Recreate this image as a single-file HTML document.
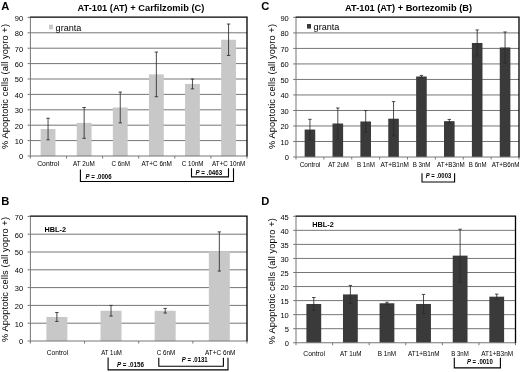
<!DOCTYPE html>
<html><head><meta charset="utf-8"><style>
html,body{margin:0;padding:0;background:#fff;}
svg{display:block;font-family:"Liberation Sans",sans-serif;}
</style></head><body>
<svg width="520" height="372" viewBox="0 0 520 372" style="will-change:transform;opacity:0.999">
<rect width="520" height="372" fill="#fff"/>
<line x1="30.4" y1="140.60" x2="247" y2="140.60" stroke="#767676" stroke-width="1"/>
<line x1="30.4" y1="125.20" x2="247" y2="125.20" stroke="#767676" stroke-width="1"/>
<line x1="30.4" y1="109.80" x2="247" y2="109.80" stroke="#767676" stroke-width="1"/>
<line x1="30.4" y1="94.40" x2="247" y2="94.40" stroke="#767676" stroke-width="1"/>
<line x1="30.4" y1="79.00" x2="247" y2="79.00" stroke="#767676" stroke-width="1"/>
<line x1="30.4" y1="63.60" x2="247" y2="63.60" stroke="#767676" stroke-width="1"/>
<line x1="30.4" y1="48.20" x2="247" y2="48.20" stroke="#767676" stroke-width="1"/>
<line x1="30.4" y1="32.80" x2="247" y2="32.80" stroke="#767676" stroke-width="1"/>
<rect x="40.65" y="129.05" width="14.8" height="26.95" fill="#c8c8c8"/>
<rect x="76.75" y="122.89" width="14.8" height="33.11" fill="#c8c8c8"/>
<rect x="112.85" y="107.49" width="14.8" height="48.51" fill="#c8c8c8"/>
<rect x="148.95" y="74.38" width="14.8" height="81.62" fill="#c8c8c8"/>
<rect x="185.05" y="83.93" width="14.8" height="72.07" fill="#c8c8c8"/>
<rect x="221.15" y="39.73" width="14.8" height="116.27" fill="#c8c8c8"/>
<line x1="30.4" y1="156.00" x2="247" y2="156.00" stroke="#767676" stroke-width="1"/>
<line x1="30.4" y1="17.4" x2="30.4" y2="158.5" stroke="#767676" stroke-width="1"/>
<path d="M29.9 17.2 H247 V156.5" fill="none" stroke="#000" stroke-width="1.3"/>
<line x1="27.599999999999998" y1="156.00" x2="30.4" y2="156.00" stroke="#767676" stroke-width="1"/>
<text x="23.2" y="159.30" font-size="7.5" text-anchor="end" fill="#000">0</text>
<line x1="27.599999999999998" y1="140.60" x2="30.4" y2="140.60" stroke="#767676" stroke-width="1"/>
<text x="23.2" y="143.90" font-size="7.5" text-anchor="end" fill="#000">10</text>
<line x1="27.599999999999998" y1="125.20" x2="30.4" y2="125.20" stroke="#767676" stroke-width="1"/>
<text x="23.2" y="128.50" font-size="7.5" text-anchor="end" fill="#000">20</text>
<line x1="27.599999999999998" y1="109.80" x2="30.4" y2="109.80" stroke="#767676" stroke-width="1"/>
<text x="23.2" y="113.10" font-size="7.5" text-anchor="end" fill="#000">30</text>
<line x1="27.599999999999998" y1="94.40" x2="30.4" y2="94.40" stroke="#767676" stroke-width="1"/>
<text x="23.2" y="97.70" font-size="7.5" text-anchor="end" fill="#000">40</text>
<line x1="27.599999999999998" y1="79.00" x2="30.4" y2="79.00" stroke="#767676" stroke-width="1"/>
<text x="23.2" y="82.30" font-size="7.5" text-anchor="end" fill="#000">50</text>
<line x1="27.599999999999998" y1="63.60" x2="30.4" y2="63.60" stroke="#767676" stroke-width="1"/>
<text x="23.2" y="66.90" font-size="7.5" text-anchor="end" fill="#000">60</text>
<line x1="27.599999999999998" y1="48.20" x2="30.4" y2="48.20" stroke="#767676" stroke-width="1"/>
<text x="23.2" y="51.50" font-size="7.5" text-anchor="end" fill="#000">70</text>
<line x1="27.599999999999998" y1="32.80" x2="30.4" y2="32.80" stroke="#767676" stroke-width="1"/>
<text x="23.2" y="36.10" font-size="7.5" text-anchor="end" fill="#000">80</text>
<line x1="27.599999999999998" y1="17.40" x2="30.4" y2="17.40" stroke="#767676" stroke-width="1"/>
<text x="23.2" y="20.70" font-size="7.5" text-anchor="end" fill="#000">90</text>
<line x1="66.50" y1="156.00" x2="66.50" y2="158.50" stroke="#767676" stroke-width="1"/>
<line x1="102.60" y1="156.00" x2="102.60" y2="158.50" stroke="#767676" stroke-width="1"/>
<line x1="138.70" y1="156.00" x2="138.70" y2="158.50" stroke="#767676" stroke-width="1"/>
<line x1="174.80" y1="156.00" x2="174.80" y2="158.50" stroke="#767676" stroke-width="1"/>
<line x1="210.90" y1="156.00" x2="210.90" y2="158.50" stroke="#767676" stroke-width="1"/>
<line x1="247.00" y1="156.00" x2="247.00" y2="158.50" stroke="#767676" stroke-width="1"/>
<path d="M48.05 118.27 V139.83 M46.35 118.27 h3.4 M46.35 139.83 h3.4" stroke="#2a2a2a" stroke-width="0.85" fill="none"/>
<path d="M84.15 107.49 V138.29 M82.45 107.49 h3.4 M82.45 138.29 h3.4" stroke="#2a2a2a" stroke-width="0.85" fill="none"/>
<path d="M120.25 92.09 V122.89 M118.55 92.09 h3.4 M118.55 122.89 h3.4" stroke="#2a2a2a" stroke-width="0.85" fill="none"/>
<path d="M156.35 52.05 V96.71 M154.65 52.05 h3.4 M154.65 96.71 h3.4" stroke="#2a2a2a" stroke-width="0.85" fill="none"/>
<path d="M192.45 79.00 V88.86 M190.75 79.00 h3.4 M190.75 88.86 h3.4" stroke="#2a2a2a" stroke-width="0.85" fill="none"/>
<path d="M228.55 24.02 V55.44 M226.85 24.02 h3.4 M226.85 55.44 h3.4" stroke="#2a2a2a" stroke-width="0.85" fill="none"/>
<text x="37.20" y="166" font-size="6.8" textLength="22" lengthAdjust="spacingAndGlyphs" fill="#000">Control</text>
<text x="73.05" y="166" font-size="6.8" textLength="21.7" lengthAdjust="spacingAndGlyphs" fill="#000">AT 2uM</text>
<text x="111.55" y="166" font-size="6.8" textLength="18.5" lengthAdjust="spacingAndGlyphs" fill="#000">C 6nM</text>
<text x="141.50" y="166" font-size="6.8" textLength="30.4" lengthAdjust="spacingAndGlyphs" fill="#000">AT+C 6nM</text>
<text x="181.85" y="166" font-size="6.8" textLength="21.7" lengthAdjust="spacingAndGlyphs" fill="#000">C 10nM</text>
<text x="211.90" y="166" font-size="6.8" textLength="33.4" lengthAdjust="spacingAndGlyphs" fill="#000">AT+C 10nM</text>
<text x="1.3" y="9.6" font-size="11.2" font-weight="bold" fill="#000">A</text>
<text x="77.5" y="10.6" font-size="9.3" font-weight="bold" textLength="126.8" lengthAdjust="spacingAndGlyphs" fill="#000">AT-101 (AT) + Carfilzomib (C)</text>
<rect x="49" y="24.7" width="4" height="4.6" fill="#c8c8c8"/>
<text x="55.6" y="30.5" font-size="9.1" fill="#000">granta</text>
<text transform="translate(8.3,149.0) rotate(-90)" font-size="9.3" textLength="125" lengthAdjust="spacing" fill="#000">% Apoptotic cells (all yopro +)</text>
<path d="M80.4 169.5 V181.5 H233.5 V168.3" fill="none" stroke="#000" stroke-width="1.1"/>
<text x="85.5" y="178.8" font-size="6.3" font-weight="bold" textLength="26" lengthAdjust="spacingAndGlyphs" fill="#000"><tspan font-style="italic">P</tspan> = .0006</text>
<path d="M191.5 168.3 V176.9 H228.5 V168.3" fill="none" stroke="#000" stroke-width="1.1"/>
<text x="195.5" y="174.8" font-size="6.3" font-weight="bold" textLength="26.7" lengthAdjust="spacingAndGlyphs" fill="#000"><tspan font-style="italic">P</tspan> = .0463</text>
<line x1="296" y1="141.49" x2="519" y2="141.49" stroke="#767676" stroke-width="1"/>
<line x1="296" y1="125.98" x2="519" y2="125.98" stroke="#767676" stroke-width="1"/>
<line x1="296" y1="110.47" x2="519" y2="110.47" stroke="#767676" stroke-width="1"/>
<line x1="296" y1="94.96" x2="519" y2="94.96" stroke="#767676" stroke-width="1"/>
<line x1="296" y1="79.44" x2="519" y2="79.44" stroke="#767676" stroke-width="1"/>
<line x1="296" y1="63.93" x2="519" y2="63.93" stroke="#767676" stroke-width="1"/>
<line x1="296" y1="48.42" x2="519" y2="48.42" stroke="#767676" stroke-width="1"/>
<line x1="296" y1="32.91" x2="519" y2="32.91" stroke="#767676" stroke-width="1"/>
<rect x="304.64" y="129.55" width="10.6" height="27.45" fill="#3a3a3a"/>
<rect x="332.51" y="123.50" width="10.6" height="33.50" fill="#3a3a3a"/>
<rect x="360.39" y="121.48" width="10.6" height="35.52" fill="#3a3a3a"/>
<rect x="388.26" y="118.69" width="10.6" height="38.31" fill="#3a3a3a"/>
<rect x="416.14" y="76.50" width="10.6" height="80.50" fill="#3a3a3a"/>
<rect x="444.01" y="121.17" width="10.6" height="35.83" fill="#3a3a3a"/>
<rect x="471.89" y="42.99" width="10.6" height="114.01" fill="#3a3a3a"/>
<rect x="499.76" y="47.49" width="10.6" height="109.51" fill="#3a3a3a"/>
<line x1="296" y1="157.00" x2="519" y2="157.00" stroke="#767676" stroke-width="1"/>
<line x1="296" y1="17.4" x2="296" y2="159.5" stroke="#767676" stroke-width="1"/>
<path d="M295.5 17.2 H519 V157.5" fill="none" stroke="#000" stroke-width="1.3"/>
<line x1="293.2" y1="157.00" x2="296" y2="157.00" stroke="#767676" stroke-width="1"/>
<text x="288.8" y="160.30" font-size="7.5" text-anchor="end" fill="#000">0</text>
<line x1="293.2" y1="141.49" x2="296" y2="141.49" stroke="#767676" stroke-width="1"/>
<text x="288.8" y="144.79" font-size="7.5" text-anchor="end" fill="#000">10</text>
<line x1="293.2" y1="125.98" x2="296" y2="125.98" stroke="#767676" stroke-width="1"/>
<text x="288.8" y="129.28" font-size="7.5" text-anchor="end" fill="#000">20</text>
<line x1="293.2" y1="110.47" x2="296" y2="110.47" stroke="#767676" stroke-width="1"/>
<text x="288.8" y="113.77" font-size="7.5" text-anchor="end" fill="#000">30</text>
<line x1="293.2" y1="94.96" x2="296" y2="94.96" stroke="#767676" stroke-width="1"/>
<text x="288.8" y="98.26" font-size="7.5" text-anchor="end" fill="#000">40</text>
<line x1="293.2" y1="79.44" x2="296" y2="79.44" stroke="#767676" stroke-width="1"/>
<text x="288.8" y="82.74" font-size="7.5" text-anchor="end" fill="#000">50</text>
<line x1="293.2" y1="63.93" x2="296" y2="63.93" stroke="#767676" stroke-width="1"/>
<text x="288.8" y="67.23" font-size="7.5" text-anchor="end" fill="#000">60</text>
<line x1="293.2" y1="48.42" x2="296" y2="48.42" stroke="#767676" stroke-width="1"/>
<text x="288.8" y="51.72" font-size="7.5" text-anchor="end" fill="#000">70</text>
<line x1="293.2" y1="32.91" x2="296" y2="32.91" stroke="#767676" stroke-width="1"/>
<text x="288.8" y="36.21" font-size="7.5" text-anchor="end" fill="#000">80</text>
<line x1="293.2" y1="17.40" x2="296" y2="17.40" stroke="#767676" stroke-width="1"/>
<text x="288.8" y="20.70" font-size="7.5" text-anchor="end" fill="#000">90</text>
<line x1="323.88" y1="157.00" x2="323.88" y2="159.50" stroke="#767676" stroke-width="1"/>
<line x1="351.75" y1="157.00" x2="351.75" y2="159.50" stroke="#767676" stroke-width="1"/>
<line x1="379.62" y1="157.00" x2="379.62" y2="159.50" stroke="#767676" stroke-width="1"/>
<line x1="407.50" y1="157.00" x2="407.50" y2="159.50" stroke="#767676" stroke-width="1"/>
<line x1="435.38" y1="157.00" x2="435.38" y2="159.50" stroke="#767676" stroke-width="1"/>
<line x1="463.25" y1="157.00" x2="463.25" y2="159.50" stroke="#767676" stroke-width="1"/>
<line x1="491.12" y1="157.00" x2="491.12" y2="159.50" stroke="#767676" stroke-width="1"/>
<line x1="519.00" y1="157.00" x2="519.00" y2="159.50" stroke="#767676" stroke-width="1"/>
<path d="M309.94 119.31 V139.78 M308.24 119.31 h3.4 M308.24 139.78 h3.4" stroke="#2a2a2a" stroke-width="0.85" fill="none"/>
<path d="M337.81 107.98 V139.01 M336.11 107.98 h3.4 M336.11 139.01 h3.4" stroke="#2a2a2a" stroke-width="0.85" fill="none"/>
<path d="M365.69 110.62 V132.34 M363.99 110.62 h3.4 M363.99 132.34 h3.4" stroke="#2a2a2a" stroke-width="0.85" fill="none"/>
<path d="M393.56 101.63 V135.75 M391.86 101.63 h3.4 M391.86 135.75 h3.4" stroke="#2a2a2a" stroke-width="0.85" fill="none"/>
<path d="M421.44 75.41 V77.58 M419.74 75.41 h3.4 M419.74 77.58 h3.4" stroke="#2a2a2a" stroke-width="0.85" fill="none"/>
<path d="M449.31 119.46 V122.88 M447.61 119.46 h3.4 M447.61 122.88 h3.4" stroke="#2a2a2a" stroke-width="0.85" fill="none"/>
<path d="M477.19 29.96 V56.02 M475.49 29.96 h3.4 M475.49 56.02 h3.4" stroke="#2a2a2a" stroke-width="0.85" fill="none"/>
<path d="M505.06 31.98 V63.00 M503.36 31.98 h3.4 M503.36 63.00 h3.4" stroke="#2a2a2a" stroke-width="0.85" fill="none"/>
<text x="299.70" y="167" font-size="6.5" textLength="20.8" lengthAdjust="spacingAndGlyphs" fill="#000">Control</text>
<text x="328.15" y="167" font-size="6.5" textLength="20.7" lengthAdjust="spacingAndGlyphs" fill="#000">AT 2uM</text>
<text x="356.90" y="167" font-size="6.5" textLength="18" lengthAdjust="spacingAndGlyphs" fill="#000">B 1nM</text>
<text x="380.50" y="167" font-size="6.5" textLength="28.4" lengthAdjust="spacingAndGlyphs" fill="#000">AT+B1nM</text>
<text x="412.70" y="167" font-size="6.5" textLength="17.8" lengthAdjust="spacingAndGlyphs" fill="#000">B 3nM</text>
<text x="436.95" y="167" font-size="6.5" textLength="27.7" lengthAdjust="spacingAndGlyphs" fill="#000">AT+B3nM</text>
<text x="468.85" y="167" font-size="6.5" textLength="17.7" lengthAdjust="spacingAndGlyphs" fill="#000">B 6nM</text>
<text x="491.65" y="167" font-size="6.5" textLength="27.9" lengthAdjust="spacingAndGlyphs" fill="#000">AT+B6nM</text>
<text x="261.3" y="9.6" font-size="11.2" font-weight="bold" fill="#000">C</text>
<text x="345" y="10.6" font-size="9.3" font-weight="bold" textLength="127" lengthAdjust="spacingAndGlyphs" fill="#000">AT-101 (AT) + Bortezomib (B)</text>
<rect x="307" y="24" width="4" height="4.6" fill="#3a3a3a"/>
<text x="313.6" y="29.8" font-size="9.1" fill="#000">granta</text>
<text transform="translate(274.5,149.0) rotate(-90)" font-size="9.3" textLength="125" lengthAdjust="spacing" fill="#000">% Apoptotic cells (all yopro +)</text>
<path d="M422 173.2 V182 H454.6 V173.2" fill="none" stroke="#000" stroke-width="1.1"/>
<text x="425.8" y="177.8" font-size="6.3" font-weight="bold" textLength="25.4" lengthAdjust="spacingAndGlyphs" fill="#000"><tspan font-style="italic">P</tspan> = .0003</text>
<line x1="30.4" y1="323.20" x2="247" y2="323.20" stroke="#767676" stroke-width="1"/>
<line x1="30.4" y1="305.40" x2="247" y2="305.40" stroke="#767676" stroke-width="1"/>
<line x1="30.4" y1="287.60" x2="247" y2="287.60" stroke="#767676" stroke-width="1"/>
<line x1="30.4" y1="269.80" x2="247" y2="269.80" stroke="#767676" stroke-width="1"/>
<line x1="30.4" y1="252.00" x2="247" y2="252.00" stroke="#767676" stroke-width="1"/>
<line x1="30.4" y1="234.20" x2="247" y2="234.20" stroke="#767676" stroke-width="1"/>
<rect x="46.37" y="316.97" width="21" height="24.03" fill="#c8c8c8"/>
<rect x="100.53" y="310.74" width="21" height="30.26" fill="#c8c8c8"/>
<rect x="154.68" y="310.74" width="21" height="30.26" fill="#c8c8c8"/>
<rect x="208.83" y="251.47" width="21" height="89.53" fill="#c8c8c8"/>
<line x1="30.4" y1="341.00" x2="247" y2="341.00" stroke="#767676" stroke-width="1"/>
<line x1="30.4" y1="216.4" x2="30.4" y2="343.5" stroke="#767676" stroke-width="1"/>
<path d="M29.9 216.20000000000002 H247 V341.5" fill="none" stroke="#000" stroke-width="1.3"/>
<line x1="27.599999999999998" y1="341.00" x2="30.4" y2="341.00" stroke="#767676" stroke-width="1"/>
<text x="23.2" y="344.30" font-size="7.5" text-anchor="end" fill="#000">0</text>
<line x1="27.599999999999998" y1="323.20" x2="30.4" y2="323.20" stroke="#767676" stroke-width="1"/>
<text x="23.2" y="326.50" font-size="7.5" text-anchor="end" fill="#000">10</text>
<line x1="27.599999999999998" y1="305.40" x2="30.4" y2="305.40" stroke="#767676" stroke-width="1"/>
<text x="23.2" y="308.70" font-size="7.5" text-anchor="end" fill="#000">20</text>
<line x1="27.599999999999998" y1="287.60" x2="30.4" y2="287.60" stroke="#767676" stroke-width="1"/>
<text x="23.2" y="290.90" font-size="7.5" text-anchor="end" fill="#000">30</text>
<line x1="27.599999999999998" y1="269.80" x2="30.4" y2="269.80" stroke="#767676" stroke-width="1"/>
<text x="23.2" y="273.10" font-size="7.5" text-anchor="end" fill="#000">40</text>
<line x1="27.599999999999998" y1="252.00" x2="30.4" y2="252.00" stroke="#767676" stroke-width="1"/>
<text x="23.2" y="255.30" font-size="7.5" text-anchor="end" fill="#000">50</text>
<line x1="27.599999999999998" y1="234.20" x2="30.4" y2="234.20" stroke="#767676" stroke-width="1"/>
<text x="23.2" y="237.50" font-size="7.5" text-anchor="end" fill="#000">60</text>
<line x1="27.599999999999998" y1="216.40" x2="30.4" y2="216.40" stroke="#767676" stroke-width="1"/>
<text x="23.2" y="219.70" font-size="7.5" text-anchor="end" fill="#000">70</text>
<line x1="84.55" y1="341.00" x2="84.55" y2="343.50" stroke="#767676" stroke-width="1"/>
<line x1="138.70" y1="341.00" x2="138.70" y2="343.50" stroke="#767676" stroke-width="1"/>
<line x1="192.85" y1="341.00" x2="192.85" y2="343.50" stroke="#767676" stroke-width="1"/>
<line x1="247.00" y1="341.00" x2="247.00" y2="343.50" stroke="#767676" stroke-width="1"/>
<path d="M56.87 312.52 V321.42 M55.17 312.52 h3.4 M55.17 321.42 h3.4" stroke="#2a2a2a" stroke-width="0.85" fill="none"/>
<path d="M111.03 305.40 V316.08 M109.33 305.40 h3.4 M109.33 316.08 h3.4" stroke="#2a2a2a" stroke-width="0.85" fill="none"/>
<path d="M165.18 308.43 V313.05 M163.48 308.43 h3.4 M163.48 313.05 h3.4" stroke="#2a2a2a" stroke-width="0.85" fill="none"/>
<path d="M219.33 231.89 V271.05 M217.63 231.89 h3.4 M217.63 271.05 h3.4" stroke="#2a2a2a" stroke-width="0.85" fill="none"/>
<text x="46.85" y="354.7" font-size="6.7" textLength="21.3" lengthAdjust="spacingAndGlyphs" fill="#000">Control</text>
<text x="101.15" y="354.7" font-size="6.7" textLength="20.7" lengthAdjust="spacingAndGlyphs" fill="#000">AT 1uM</text>
<text x="156.85" y="354.7" font-size="6.7" textLength="18.5" lengthAdjust="spacingAndGlyphs" fill="#000">C 6nM</text>
<text x="204.95" y="354.7" font-size="6.7" textLength="30.5" lengthAdjust="spacingAndGlyphs" fill="#000">AT+C 6nM</text>
<text x="1.3" y="205.3" font-size="11.2" font-weight="bold" fill="#000">B</text>
<text x="44.5" y="231.6" font-size="7.3" font-weight="bold" fill="#000">HBL-2</text>
<text transform="translate(8.3,342.0) rotate(-90)" font-size="9.3" textLength="125" lengthAdjust="spacing" fill="#000">% Apoptotic cells (all yopro +)</text>
<path d="M108.1 357.5 V369.9 H228 V357.7" fill="none" stroke="#000" stroke-width="1.1"/>
<text x="116.9" y="366.9" font-size="6.3" font-weight="bold" textLength="27" lengthAdjust="spacingAndGlyphs" fill="#000"><tspan font-style="italic">P</tspan> = .0156</text>
<path d="M158.8 357.7 V366.2 H223.4 V357.7" fill="none" stroke="#000" stroke-width="1.1"/>
<text x="181.8" y="362" font-size="6.3" font-weight="bold" textLength="25.9" lengthAdjust="spacingAndGlyphs" fill="#000"><tspan font-style="italic">P</tspan> = .0131</text>
<line x1="296" y1="328.70" x2="515.5" y2="328.70" stroke="#767676" stroke-width="1"/>
<line x1="296" y1="314.65" x2="515.5" y2="314.65" stroke="#767676" stroke-width="1"/>
<line x1="296" y1="300.60" x2="515.5" y2="300.60" stroke="#767676" stroke-width="1"/>
<line x1="296" y1="286.55" x2="515.5" y2="286.55" stroke="#767676" stroke-width="1"/>
<line x1="296" y1="272.50" x2="515.5" y2="272.50" stroke="#767676" stroke-width="1"/>
<line x1="296" y1="258.45" x2="515.5" y2="258.45" stroke="#767676" stroke-width="1"/>
<line x1="296" y1="244.40" x2="515.5" y2="244.40" stroke="#767676" stroke-width="1"/>
<line x1="296" y1="230.35" x2="515.5" y2="230.35" stroke="#767676" stroke-width="1"/>
<rect x="306.39" y="303.97" width="14.8" height="38.78" fill="#3a3a3a"/>
<rect x="342.98" y="294.42" width="14.8" height="48.33" fill="#3a3a3a"/>
<rect x="379.56" y="303.27" width="14.8" height="39.48" fill="#3a3a3a"/>
<rect x="416.14" y="303.97" width="14.8" height="38.78" fill="#3a3a3a"/>
<rect x="452.73" y="255.64" width="14.8" height="87.11" fill="#3a3a3a"/>
<rect x="489.31" y="296.67" width="14.8" height="46.08" fill="#3a3a3a"/>
<line x1="296" y1="342.75" x2="515.5" y2="342.75" stroke="#767676" stroke-width="1"/>
<line x1="296" y1="216.3" x2="296" y2="345.25" stroke="#767676" stroke-width="1"/>
<path d="M295.5 216.10000000000002 H515.5 V343.25" fill="none" stroke="#000" stroke-width="1.3"/>
<line x1="293.2" y1="342.75" x2="296" y2="342.75" stroke="#767676" stroke-width="1"/>
<text x="288.8" y="346.05" font-size="7.5" text-anchor="end" fill="#000">0</text>
<line x1="293.2" y1="328.70" x2="296" y2="328.70" stroke="#767676" stroke-width="1"/>
<text x="288.8" y="332.00" font-size="7.5" text-anchor="end" fill="#000">5</text>
<line x1="293.2" y1="314.65" x2="296" y2="314.65" stroke="#767676" stroke-width="1"/>
<text x="288.8" y="317.95" font-size="7.5" text-anchor="end" fill="#000">10</text>
<line x1="293.2" y1="300.60" x2="296" y2="300.60" stroke="#767676" stroke-width="1"/>
<text x="288.8" y="303.90" font-size="7.5" text-anchor="end" fill="#000">15</text>
<line x1="293.2" y1="286.55" x2="296" y2="286.55" stroke="#767676" stroke-width="1"/>
<text x="288.8" y="289.85" font-size="7.5" text-anchor="end" fill="#000">20</text>
<line x1="293.2" y1="272.50" x2="296" y2="272.50" stroke="#767676" stroke-width="1"/>
<text x="288.8" y="275.80" font-size="7.5" text-anchor="end" fill="#000">25</text>
<line x1="293.2" y1="258.45" x2="296" y2="258.45" stroke="#767676" stroke-width="1"/>
<text x="288.8" y="261.75" font-size="7.5" text-anchor="end" fill="#000">30</text>
<line x1="293.2" y1="244.40" x2="296" y2="244.40" stroke="#767676" stroke-width="1"/>
<text x="288.8" y="247.70" font-size="7.5" text-anchor="end" fill="#000">35</text>
<line x1="293.2" y1="230.35" x2="296" y2="230.35" stroke="#767676" stroke-width="1"/>
<text x="288.8" y="233.65" font-size="7.5" text-anchor="end" fill="#000">40</text>
<line x1="293.2" y1="216.30" x2="296" y2="216.30" stroke="#767676" stroke-width="1"/>
<text x="288.8" y="219.60" font-size="7.5" text-anchor="end" fill="#000">45</text>
<line x1="332.58" y1="342.75" x2="332.58" y2="345.25" stroke="#767676" stroke-width="1"/>
<line x1="369.17" y1="342.75" x2="369.17" y2="345.25" stroke="#767676" stroke-width="1"/>
<line x1="405.75" y1="342.75" x2="405.75" y2="345.25" stroke="#767676" stroke-width="1"/>
<line x1="442.33" y1="342.75" x2="442.33" y2="345.25" stroke="#767676" stroke-width="1"/>
<line x1="478.92" y1="342.75" x2="478.92" y2="345.25" stroke="#767676" stroke-width="1"/>
<line x1="515.50" y1="342.75" x2="515.50" y2="345.25" stroke="#767676" stroke-width="1"/>
<path d="M313.79 297.51 V310.44 M312.09 297.51 h3.4 M312.09 310.44 h3.4" stroke="#2a2a2a" stroke-width="0.85" fill="none"/>
<path d="M350.38 285.43 V303.41 M348.68 285.43 h3.4 M348.68 303.41 h3.4" stroke="#2a2a2a" stroke-width="0.85" fill="none"/>
<path d="M386.96 302.29 V304.25 M385.26 302.29 h3.4 M385.26 304.25 h3.4" stroke="#2a2a2a" stroke-width="0.85" fill="none"/>
<path d="M423.54 294.42 V313.53 M421.84 294.42 h3.4 M421.84 313.53 h3.4" stroke="#2a2a2a" stroke-width="0.85" fill="none"/>
<path d="M460.12 229.23 V282.05 M458.43 229.23 h3.4 M458.43 282.05 h3.4" stroke="#2a2a2a" stroke-width="0.85" fill="none"/>
<path d="M496.71 294.14 V299.19 M495.01 294.14 h3.4 M495.01 299.19 h3.4" stroke="#2a2a2a" stroke-width="0.85" fill="none"/>
<text x="303.35" y="355.8" font-size="6.7" textLength="21.7" lengthAdjust="spacingAndGlyphs" fill="#000">Control</text>
<text x="340.10" y="355.8" font-size="6.7" textLength="21.4" lengthAdjust="spacingAndGlyphs" fill="#000">AT 1uM</text>
<text x="377.65" y="355.8" font-size="6.7" textLength="18.5" lengthAdjust="spacingAndGlyphs" fill="#000">B 1nM</text>
<text x="408.10" y="355.8" font-size="6.7" textLength="31.6" lengthAdjust="spacingAndGlyphs" fill="#000">AT1+B1nM</text>
<text x="451.20" y="355.8" font-size="6.7" textLength="17.6" lengthAdjust="spacingAndGlyphs" fill="#000">B 3nM</text>
<text x="481.25" y="355.8" font-size="6.7" textLength="31.9" lengthAdjust="spacingAndGlyphs" fill="#000">AT1+B3nM</text>
<text x="261.3" y="205.3" font-size="11.2" font-weight="bold" fill="#000">D</text>
<text x="312.3" y="227.3" font-size="7.3" font-weight="bold" fill="#000">HBL-2</text>
<text transform="translate(274.5,344.2) rotate(-90)" font-size="9.3" textLength="126" lengthAdjust="spacing" fill="#000">% Apoptotic cells (all yopro +)</text>
<path d="M454.3 357.7 V367.9 H500.4 V357.7" fill="none" stroke="#000" stroke-width="1.1"/>
<text x="466.9" y="364.4" font-size="6.3" font-weight="bold" textLength="25.9" lengthAdjust="spacingAndGlyphs" fill="#000"><tspan font-style="italic">P</tspan> = .0010</text>
</svg>
</body></html>
